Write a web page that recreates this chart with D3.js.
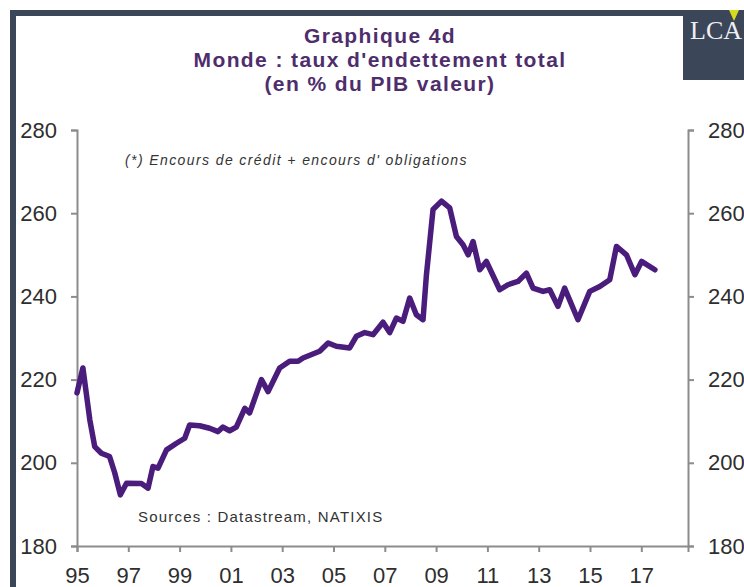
<!DOCTYPE html>
<html>
<head>
<meta charset="utf-8">
<script src="https://cdn.jsdelivr.net/npm/d3@7"></script>
<style>
  body { margin: 0; background: #fff; }
  svg { display: block; }
</style>
</head>
<body>
<div id="chart"></div>
<script>
// dates as decimal years, values in % of GDP
var dates = [1995.0, 1995.23, 1995.5, 1995.69, 1995.95, 1996.27, 1996.47, 1996.69, 1996.93, 1997.51,
  1997.77, 1997.96, 1998.16, 1998.49, 1998.88, 1999.2, 1999.39, 1999.78, 2000.17, 2000.5,
  2000.69, 2000.95, 2001.21, 2001.54, 2001.73, 2002.19, 2002.45, 2002.9, 2003.29, 2003.62,
  2003.81, 2004.46, 2004.79, 2005.11, 2005.63, 2005.89, 2006.22, 2006.54, 2006.93, 2007.19,
  2007.45, 2007.71, 2007.97, 2008.23, 2008.49, 2008.62, 2008.88, 2009.21, 2009.53, 2009.79,
  2010.05, 2010.25, 2010.44, 2010.7, 2010.96, 2011.48, 2011.8, 2012.19, 2012.52, 2012.78,
  2013.17, 2013.43, 2013.75, 2014.01, 2014.53, 2014.99, 2015.38, 2015.77, 2016.03, 2016.42,
  2016.75, 2017.01, 2017.53];
var values = [216.8, 222.8, 210.3, 203.9, 202.3, 201.5, 197.6, 192.3, 195.1, 195.0,
  193.9, 199.1, 198.7, 203.1, 204.7, 205.9, 209.1, 208.9, 208.3, 207.5,
  208.6, 207.7, 208.6, 213.1, 212.0, 220.0, 217.1, 222.8, 224.4, 224.4,
  225.2, 226.8, 228.8, 228.0, 227.6, 230.4, 231.3, 230.8, 233.8, 231.3,
  234.8, 234.0, 239.6, 235.6, 234.4, 245.0, 260.9, 262.9, 261.3, 254.4,
  252.4, 250.0, 253.2, 246.4, 248.4, 241.6, 242.8, 243.6, 245.6, 242.0,
  241.2, 241.6, 237.6, 242.0, 234.4, 241.2, 242.4, 244.0, 252.0, 250.0,
  245.2, 248.4, 246.4];
var yTicks = [180, 200, 220, 240, 260, 280];
var xTicks = [1995, 1997, 1999, 2001, 2003, 2005, 2007, 2009, 2011, 2013, 2015, 2017];
var xTickLabels = ["95", "97", "99", "01", "03", "05", "07", "09", "11", "13", "15", "17"];
var titleLines = ["Graphique 4d", "Monde : taux d'endettement total", "(en % du PIB valeur)"];

var width = 744, height = 587;
var frameColor = "#3b4658";
var axisColor = "#8c8c8c";

var svg = d3.select("#chart").append("svg")
  .attr("width", width)
  .attr("height", height);

// dark frame (top and left bands)
svg.append("rect").attr("x", 10).attr("y", 10).attr("width", width - 10).attr("height", 6).attr("fill", frameColor);
svg.append("rect").attr("x", 10).attr("y", 10).attr("width", 6).attr("height", height - 10).attr("fill", frameColor);

// LCA logo box
var logo = svg.append("g");
logo.append("rect").attr("x", 683).attr("y", 10).attr("width", 61).attr("height", 70).attr("fill", frameColor);
logo.append("text")
  .attr("x", 690).attr("y", 39)
  .style("font-family", "'Liberation Serif', 'DejaVu Serif', serif")
  .style("font-size", "26px")
  .style("fill", "#eef0f2")
  .text("LCA");
logo.append("path")
  .attr("d", "M729,10 L739,10 L734,21 Z")
  .attr("fill", "#d7dc1c");

// title
svg.append("g").selectAll("text")
  .data(titleLines)
  .enter().append("text")
  .attr("x", 380)
  .attr("y", function(d, i) { return 43 + i * 24; })
  .attr("text-anchor", "middle")
  .style("font-family", "'Liberation Sans', Arial, sans-serif")
  .style("font-weight", "bold")
  .style("font-size", "21px")
  .style("letter-spacing", "1.4px")
  .style("fill", "#4e2d6c")
  .text(function(d) { return d; });

var x = d3.scaleLinear().domain([1995, 2018.82]).range([77, 688]);
var y = d3.scaleLinear().domain([180, 280]).range([546, 130]);

function styleAxis(g) {
  g.select(".domain").attr("stroke", axisColor).attr("stroke-width", 2);
  g.selectAll(".tick line").attr("stroke", axisColor).attr("stroke-width", 2);
  g.selectAll(".tick text")
    .style("font-family", "'Liberation Sans', Arial, sans-serif")
    .style("font-size", "22px")
    .style("fill", "#2e2e2e");
}

svg.append("g")
  .attr("transform", "translate(77,0)")
  .call(d3.axisLeft(y).tickValues(yTicks).tickSize(6).tickPadding(14).tickFormat(d3.format("d")))
  .call(styleAxis);

svg.append("g")
  .attr("transform", "translate(688,0)")
  .call(d3.axisRight(y).tickValues(yTicks).tickSize(6).tickPadding(14).tickFormat(d3.format("d")))
  .call(styleAxis);

svg.append("g")
  .attr("transform", "translate(0,546)")
  .call(d3.axisBottom(x).tickValues(xTicks).tickSize(6).tickPadding(15)
    .tickFormat(function(d, i) { return xTickLabels[i]; }))
  .call(styleAxis);

// notes
svg.append("text")
  .attr("x", 125).attr("y", 165)
  .style("font-family", "'Liberation Sans', Arial, sans-serif")
  .style("font-style", "italic")
  .style("font-size", "14px")
  .style("letter-spacing", "1.4px")
  .style("fill", "#333")
  .text("(*) Encours de crédit + encours d' obligations");

svg.append("text")
  .attr("x", 138).attr("y", 522)
  .style("font-family", "'Liberation Sans', Arial, sans-serif")
  .style("font-size", "15px")
  .style("letter-spacing", "1.2px")
  .style("fill", "#333")
  .text("Sources  : Datastream,  NATIXIS");

// series
var line = d3.line()
  .x(function(d, i) { return x(dates[i]); })
  .y(function(d) { return y(d); });

svg.append("path")
  .datum(values)
  .attr("fill", "none")
  .attr("stroke", "#4a1c7c")
  .attr("stroke-width", 5.5)
  .attr("stroke-linejoin", "round")
  .attr("stroke-linecap", "round")
  .attr("d", line);
</script>
</body>
</html>
